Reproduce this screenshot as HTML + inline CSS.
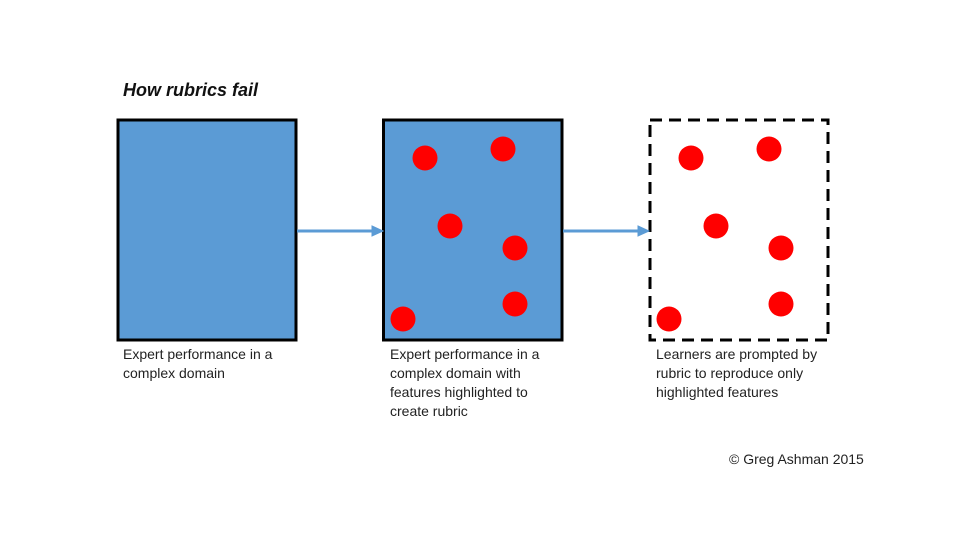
<!DOCTYPE html>
<html><head><style>
body{margin:0;width:960px;height:540px;background:#fff;position:relative;font-family:"Liberation Sans",sans-serif;overflow:hidden}
.t{position:absolute;font-size:14px;line-height:19px;color:#222}
</style></head><body>
<div class="t" style="left:123px;top:81px;font-size:18px;font-weight:bold;font-style:italic;color:#111">How rubrics fail</div>
<svg width="960" height="540" style="position:absolute;left:0;top:0">
<rect x="118" y="120" width="178" height="220" fill="#5b9bd5" stroke="#000" stroke-width="3"/>
<rect x="383.5" y="120" width="178.5" height="220" fill="#5b9bd5" stroke="#000" stroke-width="3"/>
<rect x="650" y="120" width="178" height="220" fill="#fff" stroke="#000" stroke-width="3" stroke-dasharray="12,7"/>
<g fill="#5b9bd5" stroke="#5b9bd5">
<line x1="297" y1="231" x2="374" y2="231" stroke-width="3"/><polygon points="372,226 383,231 372,236"/>
<line x1="563" y1="231" x2="640" y2="231" stroke-width="3"/><polygon points="638,226 649,231 638,236"/>
</g>
<g fill="#f00">
<circle cx="425" cy="158" r="12.5"/><circle cx="503" cy="149" r="12.5"/><circle cx="450" cy="226" r="12.5"/>
<circle cx="515" cy="248" r="12.5"/><circle cx="515" cy="304" r="12.5"/><circle cx="403" cy="319" r="12.5"/>
<circle cx="691" cy="158" r="12.5"/><circle cx="769" cy="149" r="12.5"/><circle cx="716" cy="226" r="12.5"/>
<circle cx="781" cy="248" r="12.5"/><circle cx="781" cy="304" r="12.5"/><circle cx="669" cy="319" r="12.5"/>
</g>
</svg>
<div class="t" style="left:123px;top:345px">Expert performance in a<br>complex domain</div>
<div class="t" style="left:390px;top:345px">Expert performance in a<br>complex domain with<br>features highlighted to<br>create rubric</div>
<div class="t" style="left:656px;top:345px">Learners are prompted by<br>rubric to reproduce only<br>highlighted features</div>
<div class="t" style="left:729px;top:450px">© Greg Ashman 2015</div>
</body></html>
